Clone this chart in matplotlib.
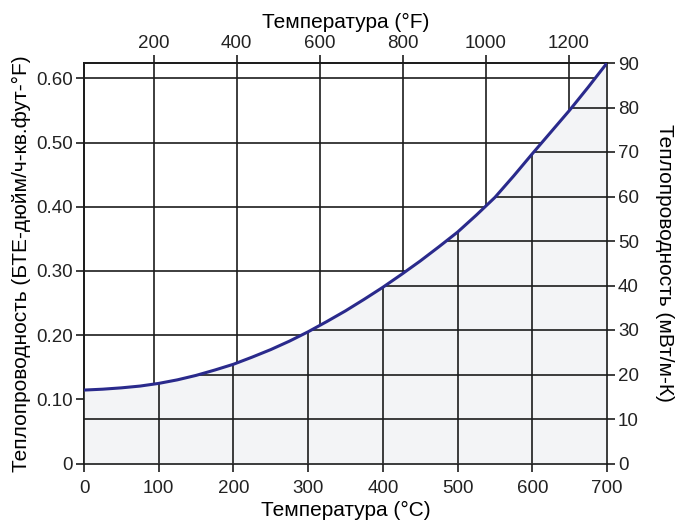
import numpy as np
import matplotlib
matplotlib.use("Agg")
import matplotlib.pyplot as plt
from matplotlib.patches import Polygon

# temperature (°C) and thermal conductivity (mW/m-K)
temp_c = [0, 25, 50, 75, 100, 125, 150, 175, 200, 225, 250, 275, 300, 325, 350,
          375, 400, 425, 450, 475, 500, 525, 550, 575, 600, 625, 650, 675, 700]
cond_mw = [16.5, 16.7, 17.0, 17.4, 18.0, 18.8, 19.8, 21.0, 22.3, 23.9, 25.6, 27.5, 29.6, 31.9, 34.3,
           36.9, 39.6, 42.5, 45.5, 48.7, 52.0, 55.8, 59.8, 64.6, 69.6, 74.5, 79.4, 84.6, 90.0]

ticks_c = [0, 100, 200, 300, 400, 500, 600, 700]
ticks_f = [200, 400, 600, 800, 1000, 1200]
ticks_mw = [0, 10, 20, 30, 40, 50, 60, 70, 80, 90]
ticks_btu = [0, 0.10, 0.20, 0.30, 0.40, 0.50, 0.60]
btu_labels = ["0", "0.10", "0.20", "0.30", "0.40", "0.50", "0.60"]

BTU_TO_MW = 144.2279

plt.rcParams["font.family"] = ["Liberation Sans Narrow", "Liberation Sans", "DejaVu Sans"]
label_font = ["Liberation Sans", "DejaVu Sans"]

fig = plt.figure(figsize=(6.88, 5.2), dpi=100)
ax = fig.add_axes([84 / 688, 1 - 463.5 / 520, 523 / 688, 400.5 / 520])

line_col = "#1c1c1c"
ax.set_xlim(0, 700)
ax.set_ylim(0, 90)

# shaded area under the curve
ax.fill_between(temp_c, 0, cond_mw, color="#f3f4f6", zorder=1)

above = Polygon(list(zip(temp_c, cond_mw)) + [(700, 100), (0, 100)],
                closed=True, transform=ax.transData)
below = Polygon([(0, 0)] + list(zip(temp_c, cond_mw)) + [(700, 0)],
                closed=True, transform=ax.transData)

# grid above the curve: °F verticals and BTU horizontals
vf = [(f - 32) / 1.8 for f in ticks_f]
hb = [b * BTU_TO_MW for b in ticks_btu[1:]]
g1 = ax.vlines(vf, 0, 90, color=line_col, lw=1.2, zorder=2)
g2 = ax.hlines(hb, 0, 700, color=line_col, lw=1.2, zorder=2)
g1.set_clip_path(above)
g2.set_clip_path(above)

# grid below the curve: °C verticals and mW horizontals
g3 = ax.vlines(ticks_c[1:-1], 0, 90, color=line_col, lw=1.2, zorder=2)
g4 = ax.hlines(ticks_mw[1:-1], 0, 700, color=line_col, lw=1.2, zorder=2)
g3.set_clip_path(below)
g4.set_clip_path(below)

ax.plot(temp_c, cond_mw, color="#2a2a8c", lw=2.2, zorder=3, solid_capstyle="round")

# axes styling
for s in ax.spines.values():
    s.set_linewidth(1.2)
    s.set_color(line_col)

tick_kw = dict(direction="out", length=5.5, width=1.2, color=line_col,
               labelsize=13.5, labelcolor="#222222", pad=2.5)

ax.set_xticks(ticks_c)
ax.set_yticks(ticks_mw)
ax.yaxis.tick_right()
ax.yaxis.set_label_position("right")
ax.tick_params(axis="both", **tick_kw)
ax.tick_params(axis="x", pad=6.5)
ax.set_xlabel("Температура (°C)", fontsize=15, family=label_font, labelpad=2.5)
ax.set_ylabel("Теплопроводность (мВт/м-К)", fontsize=15, rotation=-90,
              family=label_font, labelpad=25)

sec_x = ax.secondary_xaxis("top", functions=(lambda c: c * 1.8 + 32, lambda f: (f - 32) / 1.8))
sec_x.set_xticks(ticks_f)
sec_x.tick_params(axis="x", **tick_kw)
sec_x.spines["top"].set_linewidth(1.2)
sec_x.set_xlabel("Температура (°F)", fontsize=15, family=label_font, labelpad=5)

sec_y = ax.secondary_yaxis("left", functions=(lambda m: m / BTU_TO_MW, lambda b: b * BTU_TO_MW))
sec_y.set_yticks(ticks_btu)
sec_y.set_yticklabels(btu_labels)
sec_y.tick_params(axis="y", **tick_kw)
sec_y.spines["left"].set_linewidth(1.2)
sec_y.set_ylabel("Теплопроводность (БТЕ-дюйм/ч-кв.фут-°F)", fontsize=15,
                 family=label_font, labelpad=4)

fig.savefig("out.png", dpi=100)
